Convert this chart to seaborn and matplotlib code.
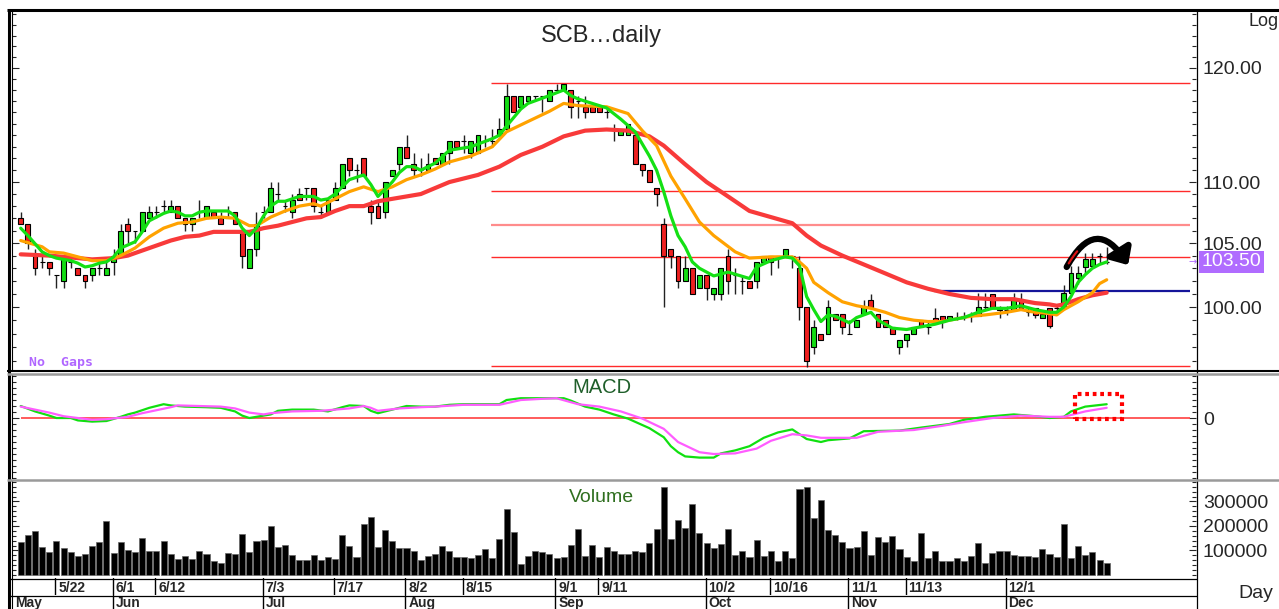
import matplotlib
matplotlib.use("Agg")
import matplotlib.pyplot as plt
import numpy as np
import pandas as pd
import seaborn as sns
from matplotlib.lines import Line2D
from matplotlib.patches import Rectangle
from matplotlib.ticker import FixedLocator, FuncFormatter, NullFormatter

W, H = 1279, 609

# Daily candles (baht), one entry per trading day
OPENS = [
    107, 106.5, 104, 103.5, 103.5, 102.5, 102, 103.5, 103, 102.5,
    102.5, 103, 102.5, 103.5, 104, 106.5, 106, 106, 107, 107.5,
    108, 107.5, 108, 107, 106.5, 107.5, 107, 107.5, 107, 107,
    107.5, 106, 103, 104.5, 107.5, 107.5, 109, 108, 107.5, 109,
    109.5, 109.5, 107.5, 107.5, 108.5, 109.5, 112, 111, 112, 108,
    108, 107.5, 110.5, 111.5, 113, 111.5, 111, 111, 112, 111.5,
    112.5, 113.5, 113.5, 112.5, 112.5, 113.5, 113.5, 114, 114.5, 117.5,
    116.5, 117, 117.5, 117.5, 117, 118, 118, 118, 117, 116.5,
    116.5, 116.5, 116, 114.5, 114, 114, 114, 111.5, 111, 109.5,
    106.5, 104.5, 104, 102, 103, 101.5, 102.5, 101, 101, 104,
    102.5, 102, 102, 102, 103.5, 104, 104, 104, 104, 103,
    100, 97, 98, 98, 99.5, 99.5, 98, 98.5, 99.5, 100.5,
    99.5, 99, 98.5, 97, 97.5, 98, 99, 98.5, 99.2, 99.3,
    99.1, 99.2, 99.3, 99.3, 99.3, 100, 101, 99.8, 99.8, 99.8,
    100.6, 99.6, 99.9, 99.2, 99.9, 99.9, 100.1, 101.1, 102.2, 103.1,
    103.2, 104, 103.5,
]
HIGHS = [
    107.5, 106.5, 104.5, 104, 103.5, 102.5, 104, 104, 103, 102.5,
    103, 103.5, 103.5, 104.5, 106.5, 107, 106, 107.5, 108, 108,
    108.5, 108.5, 108, 107, 107, 108.5, 108, 107.5, 107.5, 108,
    107.5, 106, 104.5, 107.5, 108, 110, 110, 108.5, 109, 109.5,
    109.5, 109.5, 108, 108.5, 110, 111.5, 112, 111.5, 112, 108.5,
    108.5, 110, 111, 113, 114, 112.5, 112, 112.5, 112, 112.5,
    113.5, 113.5, 114, 113.5, 114, 114, 114.5, 115.5, 118.5, 117.5,
    117.5, 117.5, 117.5, 117.5, 118, 118.5, 118.5, 118, 117.5, 117.5,
    116.5, 116.5, 116.5, 115, 114.5, 115, 114, 111.5, 111, 109.5,
    107, 104.5, 104, 104, 103, 102.5, 102.5, 101.5, 103, 104.5,
    103, 102.5, 102, 103.5, 104, 104, 104, 104.5, 104, 104,
    100, 99, 98, 100.5, 99.5, 99.5, 99, 99, 100.5, 101,
    99.5, 99, 98.5, 97.5, 98, 98.5, 99, 99, 99.9, 99.3,
    99.3, 99.6, 99.6, 99.6, 101.1, 101.1, 101, 100.1, 100.1, 101.1,
    101.1, 100, 99.9, 99.5, 99.9, 100.1, 101.7, 103.2, 103.2, 104.2,
    104.2, 104.2, 104.7,
]
LOWS = [
    106.5, 104.5, 102.5, 103, 102.5, 101.5, 101.5, 103, 102.5, 101.5,
    102, 102.5, 102.5, 102.5, 104, 105, 105, 106, 107, 107,
    107.5, 107.5, 107, 106, 106, 107, 107, 107, 106.5, 107,
    106.5, 103, 103, 104, 107, 107.5, 108.5, 107.5, 107, 108.5,
    108.5, 107.5, 107, 107.5, 108.5, 109.5, 110.5, 110, 110.5, 106.5,
    107, 107, 110.5, 111, 112, 110.5, 110.5, 111, 111.5, 111.5,
    111.5, 113, 112.5, 112, 112.5, 113, 113, 114, 114.5, 116,
    116.5, 117, 117, 116, 117, 118, 118, 115.5, 115.5, 115.5,
    116, 116, 115.5, 113.5, 114, 114, 111.5, 110.5, 110, 108,
    100, 103, 101.5, 102, 101, 101.5, 100.5, 100.5, 100.5, 101,
    101, 101, 101.5, 101.5, 103.5, 102.5, 103, 104, 103, 99,
    95.5, 96.5, 97.5, 98, 99, 98, 98, 98.5, 99.5, 100,
    98.5, 98.5, 98, 96.5, 97, 98, 98.5, 98, 98.9, 98.4,
    99.1, 99.0, 99.0, 98.9, 99.3, 99.8, 100, 99.2, 99.4, 99.8,
    99.9, 99.3, 99.2, 99.2, 98.4, 99.4, 100.1, 101.1, 101.8, 102.6,
    103.2, 103.3, 103.3,
]
CLOSES = [
    106.5, 105, 103, 103.5, 103, 102.5, 104, 103.5, 102.5, 102,
    103, 103, 103, 104, 106, 106, 106, 107.5, 107.5, 107.5,
    108, 108, 107, 106.5, 107, 107.5, 108, 107, 106.5, 107,
    106.5, 104, 104.5, 106.5, 107.5, 109.5, 109, 108, 108.5, 108.5,
    109.5, 108, 107.5, 108.5, 109.5, 111.5, 111, 111, 110.5, 107.5,
    107, 110, 111, 113, 112, 111, 111, 111.5, 111.5, 112.5,
    113.5, 113, 113.5, 113.5, 114, 113.5, 113.5, 114.5, 117.5, 116,
    117.5, 117.5, 117.5, 117.5, 118, 118, 118.5, 116.5, 117, 116,
    116, 116, 116, 114.5, 114.5, 115, 111.5, 111, 110, 109,
    104, 104, 102, 103, 101, 102.5, 101.5, 101.5, 103, 102,
    102.5, 102, 101.5, 103.5, 104, 103.5, 104, 104.5, 104, 100,
    96, 98.5, 97.5, 100, 99, 98.5, 98, 99, 100, 100,
    98.5, 98.5, 98, 97.5, 98, 98.5, 98.5, 98.5, 98.9, 98.9,
    99.3, 99.2, 99.3, 99.3, 100, 100, 100, 99.9, 99.8, 100.6,
    99.9, 99.6, 99.4, 99.5, 98.6, 99.9, 101.1, 102.6, 102.6, 103.7,
    103.7, 104, 103.5,
]
# Volume, thousands of shares
VOLUME_K = [
    136, 163, 180, 116, 93, 140, 112, 93, 79, 87,
    120, 136, 222, 88, 136, 101, 93, 152, 97, 99,
    140, 84, 64, 79, 64, 97, 84, 57, 48, 88,
    86, 169, 94, 140, 144, 200, 113, 124, 80, 61,
    60, 80, 60, 72, 67, 165, 120, 72, 210, 237,
    116, 185, 140, 109, 109, 99, 60, 76, 84, 120,
    97, 72, 72, 68, 80, 105, 68, 148, 269, 177,
    44, 76, 97, 94, 84, 68, 72, 124, 188, 76,
    124, 72, 116, 97, 87, 84, 99, 95, 132, 188,
    361, 147, 224, 193, 290, 173, 129, 109, 125, 188,
    82, 99, 72, 143, 78, 98, 57, 98, 68, 350,
    361, 231, 306, 184, 163, 136, 112, 116, 181, 83,
    154, 136, 159, 107, 72, 57, 173, 71, 99, 57,
    57, 68, 57, 78, 129, 50, 88, 98, 99, 80,
    78, 78, 72, 105, 84, 72, 208, 68, 120, 80,
    95, 61, 50,
]

# Moving averages read at sample bars
MA_FAST_BARS = [
    0, 1, 3, 4, 5, 7, 8, 9, 10, 11, 12, 13, 14, 16, 17, 18, 20, 21, 22, 23,
    24, 25, 26, 29, 30, 31, 32, 33, 34, 35, 36, 37, 39, 40, 41, 42, 43, 44, 45, 46,
    48, 49, 50, 51, 52, 53, 54, 55, 56, 58, 60, 63, 66, 67, 68, 70, 71, 74, 76, 77,
    78, 80, 82, 84, 86, 88, 89, 90, 91, 92, 93, 94, 95, 97, 99, 102, 103, 105, 107, 108,
    109, 110, 111, 112, 113, 114, 116, 117, 119, 120, 122, 124, 126, 128, 130, 132, 134, 136, 138, 140,
    142, 144, 145, 146, 147, 148, 149, 150, 151, 152,
]
MA_FAST = [
    106.2, 105.6, 104.3, 104.0, 103.8, 103.6, 103.4, 103.1, 103.2, 103.4,
    103.5, 103.9, 104.6, 105.1, 105.9, 106.8, 107.4, 107.6, 107.5, 107.2,
    107.2, 107.5, 107.6, 107.6, 107.2, 106.2, 105.6, 106.2, 107.2, 108.0,
    108.4, 108.4, 108.8, 108.8, 108.8, 108.5, 108.6, 109.0, 109.6, 110.2,
    110.6, 109.8, 108.8, 109.4, 110.0, 110.8, 111.3, 111.3, 111.0, 111.6,
    112.7, 113.0, 113.7, 114.0, 114.8, 116.3, 116.8, 117.5, 118.0, 117.5,
    117.2, 116.8, 116.4, 115.4, 114.3, 112.2, 111.0, 109.2, 107.2, 105.6,
    104.7, 103.5, 103.0, 102.4, 102.7, 102.2, 103.1, 103.6, 103.9, 103.8,
    103.2, 100.8, 99.8, 98.9, 99.4, 99.3, 98.8, 99.2, 99.6, 99.0,
    98.4, 98.3, 98.5, 98.7, 99.0, 99.2, 99.6, 99.9, 99.9, 100.1,
    99.8, 99.6, 99.6, 100.0, 100.8, 101.9, 102.5, 103.0, 103.3, 103.5,
]
MA_MID_BARS = [
    0, 3, 4, 6, 8, 10, 12, 14, 16, 18, 20, 22, 24, 26, 28, 30, 32, 33, 35, 37,
    39, 41, 42, 44, 46, 48, 50, 52, 54, 56, 58, 60, 63, 66, 68, 71, 74, 76, 78, 82,
    85, 87, 89, 91, 93, 95, 97, 100, 102, 105, 108, 109, 110, 111, 113, 115, 117, 119, 121, 123,
    125, 127, 129, 131, 133, 135, 138, 140, 142, 144, 145, 146, 148, 150, 151, 152,
]
MA_MID = [
    105.2, 104.7, 104.3, 104.2, 103.9, 103.6, 103.6, 104.0, 104.6, 105.5,
    106.2, 106.6, 106.7, 107.0, 107.1, 107.0, 106.4, 106.4, 107.1, 107.6,
    108.0, 108.2, 108.0, 108.6, 109.2, 109.6, 109.2, 109.6, 110.2, 110.6,
    111.1, 111.7, 112.2, 113.0, 114.3, 115.2, 116.1, 116.8, 116.6, 116.5,
    115.9, 114.4, 113.1, 110.5, 108.6, 106.7, 105.6, 104.3, 103.8, 103.9,
    103.9, 103.5, 103.0, 101.9, 101.1, 100.4, 100.1, 99.9, 99.6, 99.2,
    99.0, 98.9, 98.9, 99.1, 99.3, 99.4, 99.6, 99.8, 99.6, 99.5,
    99.4, 99.8, 100.4, 101.1, 101.8, 102.1,
]
MA_SLOW_BARS = [
    0, 4, 8, 10, 13, 15, 17, 19, 21, 23, 25, 27, 30, 32, 34, 36, 38, 40, 42, 44,
    46, 48, 50, 52, 54, 56, 60, 64, 67, 70, 73, 76, 79, 82, 85, 88, 90, 93, 96, 99,
    102, 105, 108, 110, 112, 115, 118, 121, 124, 127, 130, 133, 136, 139, 142, 144, 145, 146, 148, 150,
    152,
]
MA_SLOW = [
    104.1, 104.0, 103.8, 103.7, 103.8, 104.0, 104.4, 104.8, 105.2, 105.5,
    105.6, 105.9, 105.9, 105.9, 106.2, 106.4, 106.7, 107.0, 107.1, 107.6,
    108.0, 108.0, 108.4, 108.6, 108.8, 109.0, 110.0, 110.6, 111.3, 112.3,
    113.0, 113.9, 114.4, 114.5, 114.4, 113.9, 113.1, 111.5, 110.0, 108.8,
    107.6, 107.1, 106.6, 105.6, 104.8, 104.0, 103.3, 102.6, 101.9, 101.4,
    101.0, 100.7, 100.6, 100.6, 100.3, 100.2, 100.1, 100.2, 100.6, 100.9,
    101.1,
]

# MACD and signal line read at sample bars
MACD_BARS = [
    0, 2, 4, 5, 7, 8, 10, 12, 14, 15, 16, 18, 19, 20, 21, 23, 26, 28, 30, 31,
    32, 33, 35, 36, 38, 41, 43, 45, 46, 48, 49, 50, 51, 53, 54, 56, 58, 60, 62, 67,
    68, 70, 74, 76, 77, 79, 81, 83, 85, 88, 90, 91, 92, 93, 95, 97, 98, 100, 102, 104,
    106, 108, 110, 112, 113, 116, 118, 123, 126, 130, 132, 135, 139, 142, 144, 146, 147, 149, 152,
]
MACD = [
    2.0, 1.1, 0.4, 0.0, 0.0, -0.4, -0.6, -0.5, 0.2, 0.6,
    0.9, 1.7, 2.0, 2.3, 2.1, 1.9, 1.8, 1.7, 1.1, 0.4,
    0.0, 0.2, 0.6, 1.2, 1.4, 1.4, 1.1, 1.8, 2.1, 2.0,
    1.2, 0.8, 1.1, 1.7, 2.0, 1.9, 1.9, 2.2, 2.3, 2.3,
    3.0, 3.3, 3.3, 3.3, 2.9, 1.9, 1.4, 0.6, -0.1, -1.7,
    -3.2, -4.7, -5.7, -6.4, -6.6, -6.6, -5.9, -5.4, -4.7, -3.3,
    -2.4, -1.9, -3.5, -4.0, -3.7, -3.4, -2.2, -2.1, -1.6, -1.0,
    -0.3, 0.2, 0.6, 0.3, 0.0, 0.2, 1.1, 1.9, 2.3,
]
SIGNAL_BARS = [
    0, 2, 4, 6, 8, 10, 12, 15, 17, 19, 21, 22, 25, 28, 30, 32, 34, 35, 38, 42,
    46, 48, 49, 50, 53, 56, 58, 62, 67, 70, 73, 75, 78, 81, 84, 87, 90, 92, 95, 97,
    100, 103, 105, 108, 110, 112, 117, 120, 125, 129, 132, 136, 140, 144, 146, 149, 152,
]
SIGNAL = [
    1.9, 1.4, 0.9, 0.3, 0.0, -0.3, -0.2, 0.2, 0.8, 1.3,
    1.8, 2.1, 2.0, 1.9, 1.6, 0.9, 0.6, 0.8, 1.1, 1.2,
    1.6, 2.0, 1.7, 1.2, 1.6, 1.8, 1.9, 2.2, 2.2, 3.0,
    3.2, 3.3, 2.3, 1.9, 1.1, -0.1, -1.8, -4.0, -5.7, -6.0,
    -5.9, -5.1, -3.8, -2.7, -2.9, -3.3, -3.3, -2.3, -2.0, -1.3,
    -0.7, 0.0, 0.4, 0.2, 0.2, 1.1, 1.7,
]

# Horizontal levels drawn on the price pane
FIB_LEVELS = [118.6, 109.25, 106.45, 103.9, 95.6]
RESISTANCE = 101.2

PRICE_TICKS = [100, 105, 110, 120]
VOLUME_TICKS = [100000, 200000, 300000]

DATE_LABELS = ["5/22", "6/1", "6/12", "7/3", "7/17", "8/2", "8/15", "9/1",
               "9/11", "10/2", "10/16", "11/1", "11/13", "12/1"]
DATE_BARS = [5, 13, 19, 34, 44, 54, 62, 75, 81, 96, 105, 116, 124, 138]
MONTH_LABELS = ["May", "Jun", "Jul", "Aug", "Sep", "Oct", "Nov", "Dec"]
MONTH_BARS = [-1, 13, 34, 54, 75, 96, 116, 138]

sns.set_style("white")
plt.rcParams["font.family"] = ["Liberation Sans", "DejaVu Sans"]

fig = plt.figure(figsize=(W / 100, H / 100), dpi=100)
fig.patch.set_facecolor("white")


def add_ax(x0, y0, x1, y1):
    return fig.add_axes([x0 / W, 1 - y1 / H, (x1 - x0) / W, (y1 - y0) / H])


def fig_line(x0, y0, x1, y1, color="black", lw=1.0):
    fig.add_artist(Line2D([x0 / W, x1 / W], [1 - y0 / H, 1 - y1 / H],
                          transform=fig.transFigure, color=color, lw=lw,
                          solid_capstyle="butt", zorder=10))


XLIM = (-1.22, 164.5)
RIGHT_END = 163.7
bars = np.arange(len(CLOSES))
o = np.array(OPENS)
c = np.array(CLOSES)

ax = add_ax(12, 11, 1196, 370)
ax_m = add_ax(12, 375, 1196, 478)
ax_v = add_ax(12, 481, 1196, 578)
ax_d = add_ax(12, 578, 1196, 595)
ax_mo = add_ax(12, 595, 1196, 609)

for a in (ax, ax_m, ax_v, ax_d, ax_mo):
    a.set_facecolor("white")
    for side in ("top", "right", "bottom"):
        a.spines[side].set_visible(False)
    a.spines["left"].set_color("black")
    a.spines["left"].set_linewidth(0.8)

# ---- price pane ----
ax.set_yscale("log")
fib_colors = ["#ff2a2a", "#ff2a2a", "#ff8c8c", "#ff2a2a", "#ff2a2a"]
fib_widths = [1.0, 1.0, 1.6, 1.0, 1.0]
for lvl, col, lw in zip(FIB_LEVELS, fib_colors, fib_widths):
    ax.hlines(lvl, 65.8, RIGHT_END, color=col, lw=lw, zorder=1)
ax.hlines(RESISTANCE, 127.8, RIGHT_END, color="#15159a", lw=1.6, zorder=1)

body_colors = np.where(c > o, "#14dc14", np.where(c < o, "#ee2020", "black"))
ax.vlines(bars, LOWS, HIGHS, color="#222222", lw=1.0, zorder=2)
ax.bar(bars, np.abs(c - o), bottom=np.minimum(o, c), width=0.68,
       color=body_colors, edgecolor="black", linewidth=0.8, zorder=3)

sns.lineplot(x=MA_SLOW_BARS, y=MA_SLOW, color="#f83a3a", lw=3.0, ax=ax, zorder=4)
sns.lineplot(x=MA_MID_BARS, y=MA_MID, color="#ffa200", lw=2.3, ax=ax, zorder=4)
sns.lineplot(x=MA_FAST_BARS, y=MA_FAST, color="#14e014", lw=2.3, ax=ax, zorder=5)

ax.set_xlim(XLIM)
ax.set_ylim(95.31, 125.33)
ax.yaxis.set_major_locator(FixedLocator(PRICE_TICKS))
ax.yaxis.set_major_formatter(FuncFormatter(lambda v, _: f"{v:.2f}"))
ax.yaxis.set_minor_locator(FixedLocator(np.arange(96, 126)))
ax.yaxis.set_minor_formatter(NullFormatter())
ax.tick_params(axis="y", which="both", left=True, right=True, labelleft=False,
               labelright=True, direction="in", pad=5, labelsize=14, width=0.8)
ax.tick_params(axis="y", which="major", length=5)
ax.tick_params(axis="y", which="minor", length=3)
ax.tick_params(axis="x", which="both", bottom=False, labelbottom=False)
ax.set_xlabel("")
ax.set_ylabel("")

ax.text(0.498, 0.930, "SCB…daily", transform=ax.transAxes, ha="center",
        va="center", fontsize=17)
ax.text(0.0144, 0.022, "No  Gaps", transform=ax.transAxes, ha="left",
        va="center", fontsize=9.5, color="#b066ff", fontweight="bold",
        family=["DejaVu Sans Mono"])

ax.text(1.0046, CLOSES[-1], f"{CLOSES[-1]:.2f}", transform=ax.get_yaxis_transform(),
        ha="left", va="center", fontsize=14, color="white",
        bbox=dict(boxstyle="square,pad=0.12", facecolor="#b06cff", edgecolor="none"))
ax.text(0.9975, CLOSES[-1], "→", transform=ax.get_yaxis_transform(), ha="center",
        va="center", fontsize=7, color="#b066ff", family=["DejaVu Sans"])

# curved arrow over the last candles: black arc with a red stroke on its left leg
arc_start = (146.4, 103.1)
arc_end = (155.0, 103.25)
ax.annotate("", xy=arc_end, xytext=arc_start,
            arrowprops=dict(arrowstyle="-|>,head_length=0.55,head_width=0.5",
                            connectionstyle="arc3,rad=-0.85", color="black",
                            lw=4.5, mutation_scale=16, shrinkA=0, shrinkB=0),
            zorder=6)
ax.annotate("", xy=arc_end, xytext=arc_start,
            arrowprops=dict(arrowstyle="-", connectionstyle="arc3,rad=-0.85",
                            color="#dd1111", lw=1.6, shrinkA=3, shrinkB=38),
            zorder=7)

# ---- MACD pane ----
ax_m.hlines(0, 0, RIGHT_END, color="#ff4040", lw=1.2, zorder=1)
sns.lineplot(x=MACD_BARS, y=MACD, color="#10e010", lw=1.6, ax=ax_m, zorder=3)
sns.lineplot(x=SIGNAL_BARS, y=SIGNAL, color="#ff5cff", lw=1.6, ax=ax_m, zorder=4)
ax_m.add_patch(Rectangle((147.5, -0.2), 6.6, 4.2, fill=False, edgecolor="#ff0000",
                         lw=3, linestyle=(0, (0.9, 0.9)), zorder=5))
ax_m.set_xlim(XLIM)
ax_m.set_ylim(-10.0, 7.17)
ax_m.yaxis.set_major_locator(FixedLocator([0]))
ax_m.yaxis.set_major_formatter(FuncFormatter(lambda v, _: f"{v:.0f}"))
ax_m.yaxis.set_minor_locator(FixedLocator(np.arange(-10, 8)))
ax_m.tick_params(axis="y", which="both", left=True, right=True, labelleft=False,
                 labelright=True, direction="in", pad=5, labelsize=14, width=0.8)
ax_m.tick_params(axis="y", which="major", length=5)
ax_m.tick_params(axis="y", which="minor", length=3)
ax_m.tick_params(axis="x", which="both", bottom=False, labelbottom=False)
ax_m.set_xlabel("")
ax_m.set_ylabel("")
ax_m.text(0.498, 0.883, "MACD", transform=ax_m.transAxes, ha="center",
          va="center", fontsize=14.5, color="#1f5f2a")

# ---- volume pane ----
vol_df = pd.DataFrame({"bar": bars, "volume": np.array(VOLUME_K) * 1000})
sns.barplot(data=vol_df, x="bar", y="volume", native_scale=True, orient="x",
            color="black", saturation=1, width=0.85, edgecolor="#666666",
            linewidth=0.5, errorbar=None, ax=ax_v)
ax_v.set_xlim(XLIM)
ax_v.set_ylim(-12245, 383673)
ax_v.yaxis.set_major_locator(FixedLocator(VOLUME_TICKS))
ax_v.yaxis.set_major_formatter(FuncFormatter(lambda v, _: f"{int(v)}"))
ax_v.yaxis.set_minor_locator(FixedLocator(np.arange(0, 380001, 20000)))
ax_v.tick_params(axis="y", which="both", left=True, right=True, labelleft=False,
                 labelright=True, direction="in", pad=5, labelsize=14, width=0.8)
ax_v.tick_params(axis="y", which="major", length=5)
ax_v.tick_params(axis="y", which="minor", length=3)
ax_v.tick_params(axis="x", which="both", bottom=False, labelbottom=False)
ax_v.set_xlabel("")
ax_v.set_ylabel("")
ax_v.text(0.498, 0.835, "Volume", transform=ax_v.transAxes, ha="center",
          va="center", fontsize=14, color="#2f6f1f")

# ---- date rows ----
date_font = dict(fontsize=10, fontweight="bold",
                 family=["Liberation Sans Narrow", "Liberation Sans"])
for a in (ax_d, ax_mo):
    a.set_xlim(XLIM)
    a.set_ylim(0, 1)
    a.set_xticks([])
    a.set_yticks([])
for pos, lab in zip(DATE_BARS, DATE_LABELS):
    ax_d.axvline(pos - 0.15, color="black", lw=1)
    ax_d.text(pos + 0.25, 0.42, lab, ha="left", va="center", **date_font)
for pos, lab in zip(MONTH_BARS, MONTH_LABELS):
    if pos > 0:
        ax_mo.axvline(pos - 0.15, color="black", lw=1)
    ax_mo.text(pos + 0.25, 0.45, lab, ha="left", va="center", **date_font)

# ---- frame ----
fig_line(8.5, 9, 8.5, 609, lw=2.2)
fig_line(7, 10, 1279, 10, lw=2.2)
fig_line(1196.5, 10, 1196.5, 609, lw=0.9)
fig_line(7, 370.5, 1279, 370.5, lw=1.5)
fig_line(7, 373.5, 1279, 373.5, color="#9a9a9a", lw=1.8)
fig_line(7, 479.5, 1279, 479.5, color="#9a9a9a", lw=1.8)
fig_line(8, 578.5, 1196.5, 578.5, lw=0.9)
fig_line(8, 595.5, 1196.5, 595.5, lw=0.9)

fig.text(1249 / W, 1 - 21 / H, "Log", ha="left", va="center", fontsize=13)
fig.text(1238 / W, 1 - 593 / H, "Day", ha="left", va="center", fontsize=14)

fig.savefig("out.png", dpi=100)
